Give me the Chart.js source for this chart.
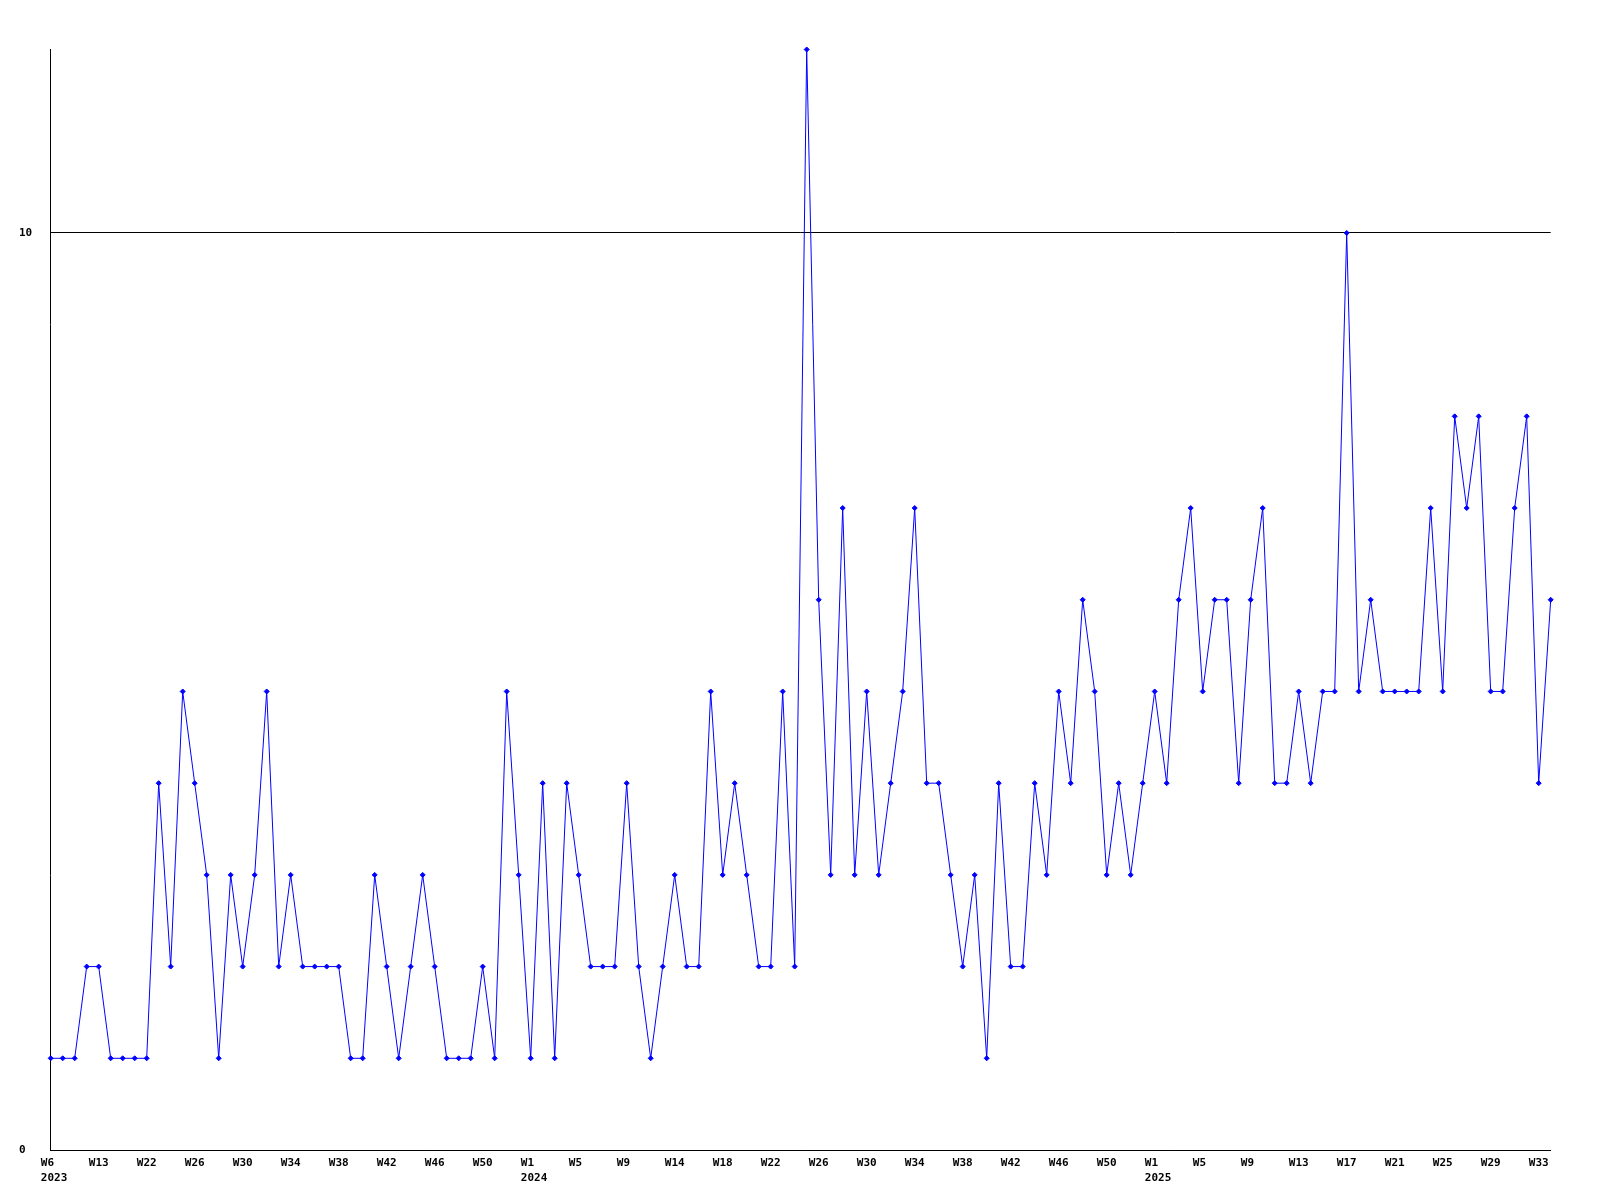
<!DOCTYPE html>
<html>
<head>
<meta charset="utf-8">
<title>Weekly count</title>
<script src="https://cdn.jsdelivr.net/npm/chart.js"></script>
<style>
  html, body { margin: 0; padding: 0; background: #fff; }
  #wrap { width: 1600px; height: 1200px; }
</style>
</head>
<body>
<div id="wrap"><canvas id="chart" width="1600" height="1200"></canvas></div>
<script>
// weekly values, one per point (2023 W6 .. 2025 W34)
var counts = [
  1, 1, 1, 2, 2, 1, 1, 1, 1, 4, 2, 5, 4, 3, 1, 3, 2, 3, 5, 2, 3, 2, 2, 2, 2, 1, 1, 3, 2, 1, 2, 3,
  2, 1, 1, 1, 2, 1, 5, 3, 1, 4, 1, 4, 3, 2, 2, 2, 4, 2, 1, 2, 3, 2, 2, 5, 3, 4, 3, 2, 2, 5, 2,
  12, 6, 3, 7, 3, 5, 3, 4, 5, 7, 4, 4, 3, 2, 3, 1, 4, 2, 2, 4, 3, 5, 4, 6, 5, 3, 4, 3, 4, 5, 4, 6, 7,
  5, 6, 6, 4, 6, 7, 4, 4, 5, 4, 5, 5, 10, 5, 6, 5, 5, 5, 5, 7, 5, 8, 7, 8, 5, 5, 7, 8, 4, 6
];

// a label is printed under every 4th point
var tickLabels = [
  ['W6', '2023'], 'W13', 'W22', 'W26', 'W30', 'W34', 'W38', 'W42', 'W46', 'W50',
  ['W1', '2024'], 'W5', 'W9', 'W14', 'W18', 'W22', 'W26', 'W30', 'W34', 'W38', 'W42', 'W46', 'W50',
  ['W1', '2025'], 'W5', 'W9', 'W13', 'W17', 'W21', 'W25', 'W29', 'W33'
];
var labelEvery = 4;

var yTicks = [0, 10];

var categories = counts.map(function (v, i) {
  return i % labelEvery === 0 ? tickLabels[i / labelEvery] : '';
});

// the labels start a little left of their point: pad so the centred text lands there
function padLine(s) {
  if (s.length === 2) return s + ' ';
  if (s.length === 4) return ' ' + s;
  return s;
}

var tickFont = { family: '"DejaVu Sans Mono", monospace', size: 11, weight: 'bold', lineHeight: 1.4 };

new Chart(document.getElementById('chart'), {
  type: 'line',
  data: {
    labels: categories,
    datasets: [{
      data: counts,
      borderColor: '#0000ff',
      backgroundColor: '#0000ff',
      borderWidth: 1,
      tension: 0,
      pointStyle: 'rectRot',
      pointRadius: 2.5,
      pointBorderWidth: 1,
      pointHoverRadius: 2.5,
      clip: 6
    }]
  },
  options: {
    responsive: false,
    animation: false,
    layout: { padding: { left: 19, top: 49.5, right: 49.3, bottom: 0 } },
    plugins: { legend: { display: false }, tooltip: { enabled: false } },
    scales: {
      x: {
        offset: false,
        grid: { display: false },
        border: { display: true, color: '#000', width: 1 },
        afterFit: function (axis) { axis.height = 50; },
        ticks: {
          autoSkip: false,
          maxRotation: 0,
          minRotation: 0,
          padding: -3,
          color: '#000',
          font: tickFont,
          callback: function (value) {
            var lab = this.getLabelForValue(value);
            if (Array.isArray(lab)) return lab.map(padLine);
            return lab ? padLine(lab) : '';
          }
        }
      },
      y: {
        min: 0,
        max: 12,
        afterBuildTicks: function (axis) {
          axis.ticks = yTicks.map(function (v) { return { value: v }; });
        },
        afterFit: function (axis) { axis.width = 31.7; },
        grid: { color: '#000', lineWidth: 1, drawTicks: false },
        border: { display: true, color: '#000', width: 1 },
        ticks: {
          crossAlign: 'far',
          padding: 0,
          color: '#000',
          font: { family: '"DejaVu Sans Mono", monospace', size: 11, weight: 'bold' }
        }
      }
    }
  }
});
</script>
</body>
</html>
